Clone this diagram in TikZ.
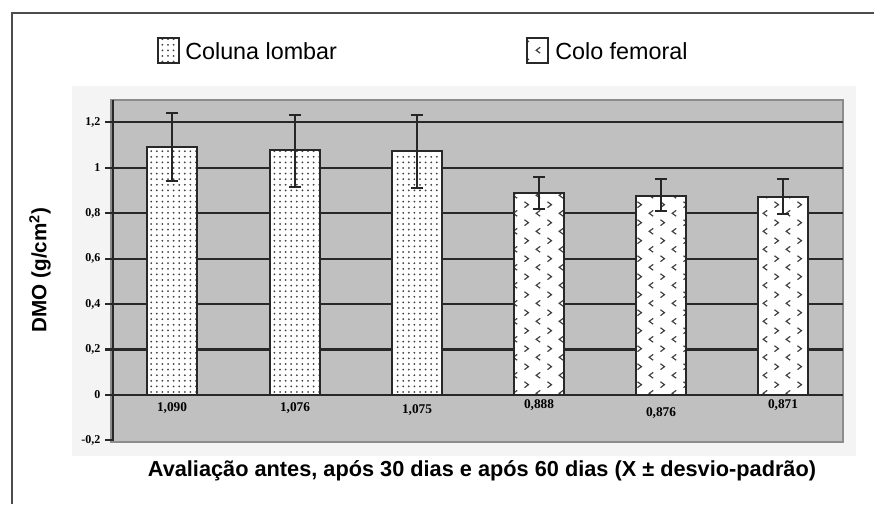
\documentclass[tikz,border=0pt]{standalone}
\usepackage{fontspec}
\setmainfont{Liberation Sans}
\newfontfamily\valfont{Liberation Serif}
\usetikzlibrary{patterns,patterns.meta}

\definecolor{plotgray}{RGB}{192,192,192}
\definecolor{gridline}{RGB}{40,40,40}
\definecolor{chartbg}{RGB}{244,244,244}

% > < marks for the femoral bars
\pgfdeclarepatternformonly{chevrons}{\pgfqpoint{0pt}{0pt}}{\pgfqpoint{17pt}{13.5pt}}{\pgfqpoint{17pt}{13.5pt}}{
  \pgfsetlinewidth{0.9pt}
  \pgfpathmoveto{\pgfqpoint{2.6pt}{12pt}}\pgfpathlineto{\pgfqpoint{5.6pt}{9.7pt}}\pgfpathlineto{\pgfqpoint{2.6pt}{7.4pt}}
  \pgfpathmoveto{\pgfqpoint{14.4pt}{5.2pt}}\pgfpathlineto{\pgfqpoint{11.4pt}{2.9pt}}\pgfpathlineto{\pgfqpoint{14.4pt}{0.6pt}}
  \pgfusepath{stroke}
}

\tikzset{
  grade/.style={draw=gridline, line width=1.6pt},
  lombar/.style={draw=gridline, line width=1.5pt, preaction={fill=white},
    pattern={Dots[radius=0.75pt,distance=4.2pt]}, pattern color=black!75},
  femoral/.style={draw=gridline, line width=1.5pt, preaction={fill=white},
    pattern=chevrons, pattern color=black!75},
  errbar/.style={draw=black!85, line width=1.2pt},
  ticklbl/.style={anchor=east, inner sep=1pt, font=\valfont\bfseries\fontsize{9}{10}\selectfont},
  vallbl/.style={inner sep=0pt, font=\valfont\bfseries\fontsize{10}{11}\selectfont},
  legtext/.style={anchor=west, inner sep=0pt, font=\fontsize{17.5}{20}\selectfont},
}

\begin{document}
\begin{tikzpicture}[x=0.75pt,y=-0.75pt]
\useasboundingbox (0,0) rectangle (874,504);

% frame
\draw[black!70, line width=1.2pt] (874,13) -- (12,13) -- (12,504);

% chart area
\fill[chartbg] (72,86) rectangle (856,456);
\filldraw[fill=plotgray, draw=black!45, line width=1pt] (111,100) rectangle (843,442);

% grid and axis
\foreach \v/\t in {1.2/{1,2}, 1/1, 0.8/{0,8}, 0.6/{0,6}, 0.4/{0,4}, 0.2/{0,2}, 0/0}
{
  \draw[grade] (113,{395-\v*227.3}) -- (843,{395-\v*227.3});
  \draw[grade] (105,{395-\v*227.3}) -- (113,{395-\v*227.3});
  \node[ticklbl] at (102,{395-\v*227.3}) {\t};
}
\draw[grade] (105,440) -- (113,440);
\node[ticklbl] at (102,440) {-0,2};
\draw[grade] (113,100) -- (113,441);

% bars
\foreach \xc/\val/\et/\eb/\lbl/\ly/\kind in {172/1.090/113/181/{1,090}/408/lombar,
    295/1.076/115/187/{1,076}/408/lombar, 417/1.075/115/188/{1,075}/410/lombar,
    539/0.888/177/209/{0,888}/405/femoral, 661/0.876/179/211/{0,876}/413/femoral,
    783/0.871/179/214/{0,871}/405/femoral}
{
  \draw[\kind] (\xc-25,395) rectangle (\xc+25,{395-\val*227.3});
  \draw[errbar] (\xc,\et) -- (\xc,\eb) (\xc-6,\et) -- (\xc+6,\et) (\xc-6,\eb) -- (\xc+6,\eb);
  \node[vallbl] at (\xc,\ly) {\lbl};
}

% legend
\draw[lombar, line width=0.8pt] (158,38) rectangle (179,63);
\node[legtext] (leglombar) at (185,51) {Coluna lombar};
\draw[femoral, line width=0.8pt] (527,38) rectangle (548,63);
\node[legtext] (legfemoral) at (555,51) {Colo femoral};

% axis titles
\node[rotate=90, font=\bfseries\fontsize{15.5}{18}\selectfont] (ytitle) at (40,270) {DMO (g/cm\textsuperscript{2})};
\node[font=\bfseries\fontsize{16.3}{19}\selectfont] (xtitle) at (482,471) {Avaliação antes, após 30 dias e após 60 dias (X ± desvio-padrão)};
\end{tikzpicture}
\end{document}
